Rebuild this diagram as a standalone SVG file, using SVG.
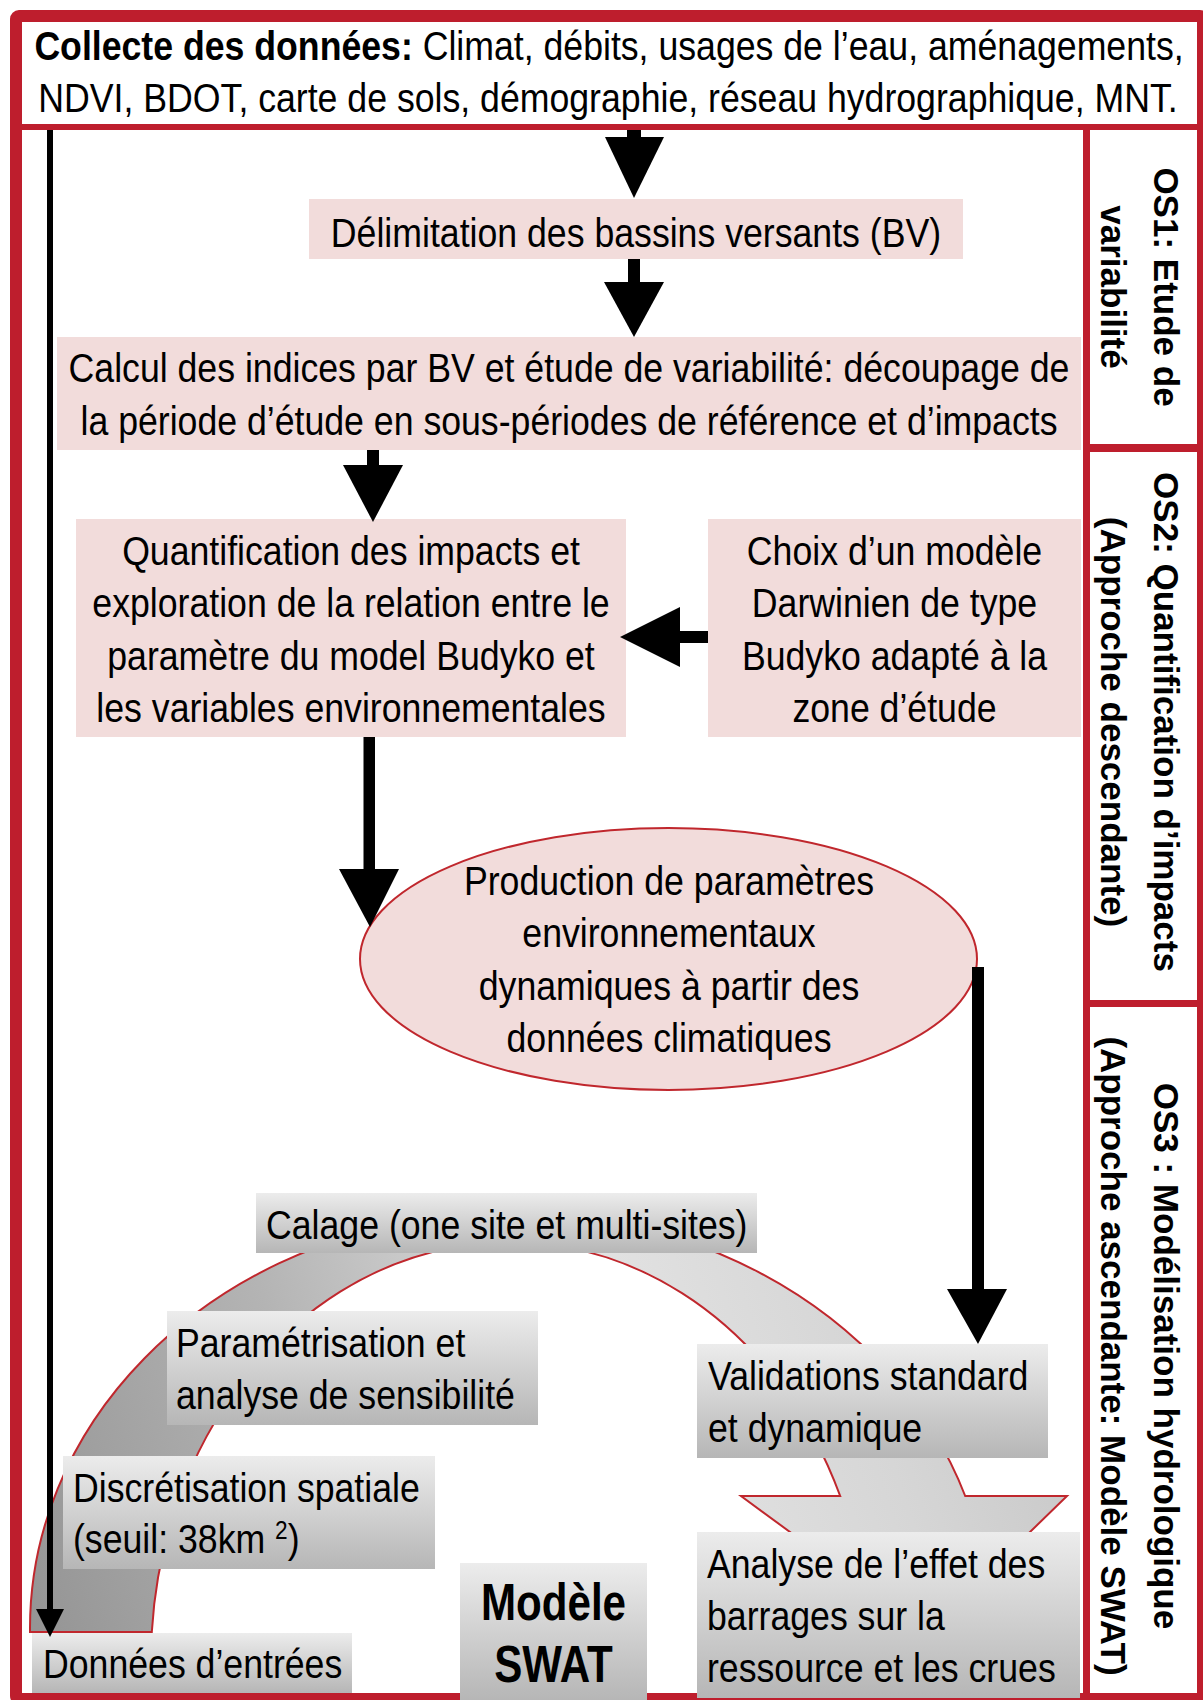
<svg xmlns="http://www.w3.org/2000/svg" width="1203" height="1700" viewBox="0 0 1203 1700">
<defs>
<linearGradient id="gbox" x1="0" y1="0" x2="0" y2="1">
<stop offset="0" stop-color="#ececec"/>
<stop offset="1" stop-color="#b6b6b6"/>
</linearGradient>
<linearGradient id="gband" gradientUnits="userSpaceOnUse" x1="30" y1="1640" x2="1070" y2="1300">
<stop offset="0" stop-color="#949494"/>
<stop offset="0.3" stop-color="#b4b4b4"/>
<stop offset="0.6" stop-color="#e2e2e2"/>
<stop offset="0.8" stop-color="#d6d6d6"/>
<stop offset="1" stop-color="#c6c6c6"/>
</linearGradient>
<style>
.t{font-family:"Liberation Sans",Arial,sans-serif;font-size:41px;fill:#000}
.b{font-weight:bold}
.os{font-family:"Liberation Sans",Arial,sans-serif;font-size:35px;font-weight:bold;fill:#000}
.sw{font-family:"Liberation Sans",Arial,sans-serif;font-size:52px;font-weight:bold;fill:#000}
.pink{fill:#f2dcdb}
.grey{fill:url(#gbox)}
.red{fill:#be1e2d}
.arr{fill:#000}
</style>
</defs>

<g id="frame">
<rect x="16" y="16" width="1187" height="1683" rx="3" fill="#fff" stroke="#be1e2d" stroke-width="12"/>
<rect class="red" x="22" y="124" width="1175" height="6"/>
<rect class="red" x="1083" y="130" width="7" height="1563"/>
<rect class="red" x="1090" y="444" width="107" height="8"/>
<rect class="red" x="1090" y="1000" width="107" height="7"/>
</g>

<g id="header">
<text class="t" transform="translate(609 60) scale(0.87 1)" text-anchor="middle"><tspan class="b">Collecte des données:</tspan> Climat, débits, usages de l’eau, aménagements,</text>
<text class="t" transform="translate(608 112) scale(0.87 1)" text-anchor="middle">NDVI, BDOT, carte de sols, démographie, réseau hydrographique, MNT.</text>
</g>

<g id="os1">
<text class="os" transform="translate(1154 287) rotate(90)" text-anchor="middle">OS1: Etude de</text>
<text class="os" transform="translate(1101 287) rotate(90)" text-anchor="middle">variabilité</text>
</g>
<g id="os2">
<text class="os" transform="translate(1154 722) rotate(90)" text-anchor="middle">OS2: Quantification d’impacts</text>
<text class="os" transform="translate(1101 722) rotate(90)" text-anchor="middle">(Approche descendante)</text>
</g>
<g id="os3">
<text class="os" transform="translate(1154 1356) rotate(90)" text-anchor="middle">OS3 : Modélisation hydrologique</text>
<text class="os" transform="translate(1101 1356) rotate(90)" text-anchor="middle">(Approche ascendante: Modèle SWAT)</text>
</g>

<g id="swat-cycle">
<path d="M30,1632 L30,1628 A480,416 0 0 1 965.2,1496 L1067,1496 L926.7,1632.5 L741,1496 L840.2,1496 A359,418 0 0 0 151.8,1632 Z" fill="url(#gband)" stroke="#c0272d" stroke-width="2" stroke-linejoin="miter"/>
</g>

<g id="delimitation">
<rect class="pink" x="309" y="199" width="654" height="60"/>
<text class="t" transform="translate(636 247) scale(0.87 1)" text-anchor="middle">Délimitation des bassins versants (BV)</text>
</g>

<g id="calcul">
<rect class="pink" x="57" y="337" width="1024" height="113"/>
<text class="t" transform="translate(569 382) scale(0.87 1)" text-anchor="middle">Calcul des indices par BV et étude de variabilité: découpage de<tspan x="0" dy="53">la période d’étude en sous-périodes de référence et d’impacts</tspan></text>
</g>

<g id="quantification">
<rect class="pink" x="76" y="519" width="550" height="218"/>
<text class="t" transform="translate(351 565) scale(0.87 1)" text-anchor="middle">Quantification des impacts et<tspan x="0" dy="52.3">exploration de la relation entre le</tspan><tspan x="0" dy="52.3">paramètre du model Budyko et</tspan><tspan x="0" dy="52.3">les variables environnementales</tspan></text>
</g>

<g id="choix">
<rect class="pink" x="708" y="519" width="373" height="218"/>
<text class="t" transform="translate(894.5 565) scale(0.87 1)" text-anchor="middle">Choix d’un modèle<tspan x="0" dy="52.3">Darwinien de type</tspan><tspan x="0" dy="52.3">Budyko adapté à la</tspan><tspan x="0" dy="52.3">zone d’étude</tspan></text>
</g>

<g id="production">
<ellipse cx="668.5" cy="959" rx="308.5" ry="131" fill="#f2dcdb" stroke="#c0272d" stroke-width="2"/>
<text class="t" transform="translate(669 895) scale(0.87 1)" text-anchor="middle">Production de paramètres<tspan x="0" dy="52.3">environnementaux</tspan><tspan x="0" dy="52.3">dynamiques à partir des</tspan><tspan x="0" dy="52.3">données climatiques</tspan></text>
</g>

<g id="calage">
<rect class="grey" x="256" y="1193" width="501" height="60"/>
<text class="t" transform="translate(266 1239) scale(0.87 1)">Calage (one site et multi-sites)</text>
</g>

<g id="parametrisation">
<rect class="grey" x="167" y="1311" width="371" height="114"/>
<text class="t" transform="translate(176 1357) scale(0.87 1)">Paramétrisation et<tspan x="0" dy="52">analyse de sensibilité</tspan></text>
</g>

<g id="discretisation">
<rect class="grey" x="63" y="1456" width="372" height="113"/>
<text class="t" transform="translate(73 1502) scale(0.87 1)">Discrétisation spatiale<tspan x="0" dy="51">(seuil: 38km </tspan><tspan font-size="26" dy="-14">2</tspan><tspan dy="14">)</tspan></text>
</g>

<g id="donnees">
<rect class="grey" x="32" y="1633" width="320" height="60"/>
<text class="t" transform="translate(43 1678) scale(0.87 1)">Données d’entrées</text>
</g>

<g id="modele-swat">
<rect class="grey" x="460" y="1563" width="187" height="137"/>
<text class="sw" transform="translate(553.5 1620) scale(0.81 1)" text-anchor="middle">Modèle<tspan x="0" dy="62">SWAT</tspan></text>
</g>

<g id="validations">
<rect class="grey" x="697" y="1344" width="351" height="114"/>
<text class="t" transform="translate(708 1390) scale(0.87 1)">Validations standard<tspan x="0" dy="52">et dynamique</tspan></text>
</g>

<g id="analyse">
<rect class="grey" x="697" y="1532" width="383" height="166"/>
<text class="t" transform="translate(707 1578) scale(0.87 1)">Analyse de l’effet des<tspan x="0" dy="52">barrages sur la</tspan><tspan x="0" dy="52">ressource et les crues</tspan></text>
</g>

<g id="connectors">
<rect class="arr" x="627" y="130" width="14" height="8"/>
<polygon class="arr" points="605,137 664,137 634,198"/>
<rect class="arr" x="628" y="259" width="12" height="24"/>
<polygon class="arr" points="604,282 664,282 634,337"/>
<rect class="arr" x="367" y="450" width="12" height="16"/>
<polygon class="arr" points="343,465 403,465 373,522"/>
<rect class="arr" x="680" y="631" width="28" height="12"/>
<polygon class="arr" points="680,607 680,667 620,637"/>
<rect class="arr" x="363.5" y="737" width="11.5" height="133"/>
<polygon class="arr" points="339,869 399,869 370,927"/>
<rect class="arr" x="972" y="967" width="12" height="323"/>
<polygon class="arr" points="947,1289 1007,1289 978,1344"/>
<rect class="arr" x="47" y="130" width="6" height="1480"/>
<polygon class="arr" points="36,1609 64,1609 50,1637"/>
</g>
</svg>
